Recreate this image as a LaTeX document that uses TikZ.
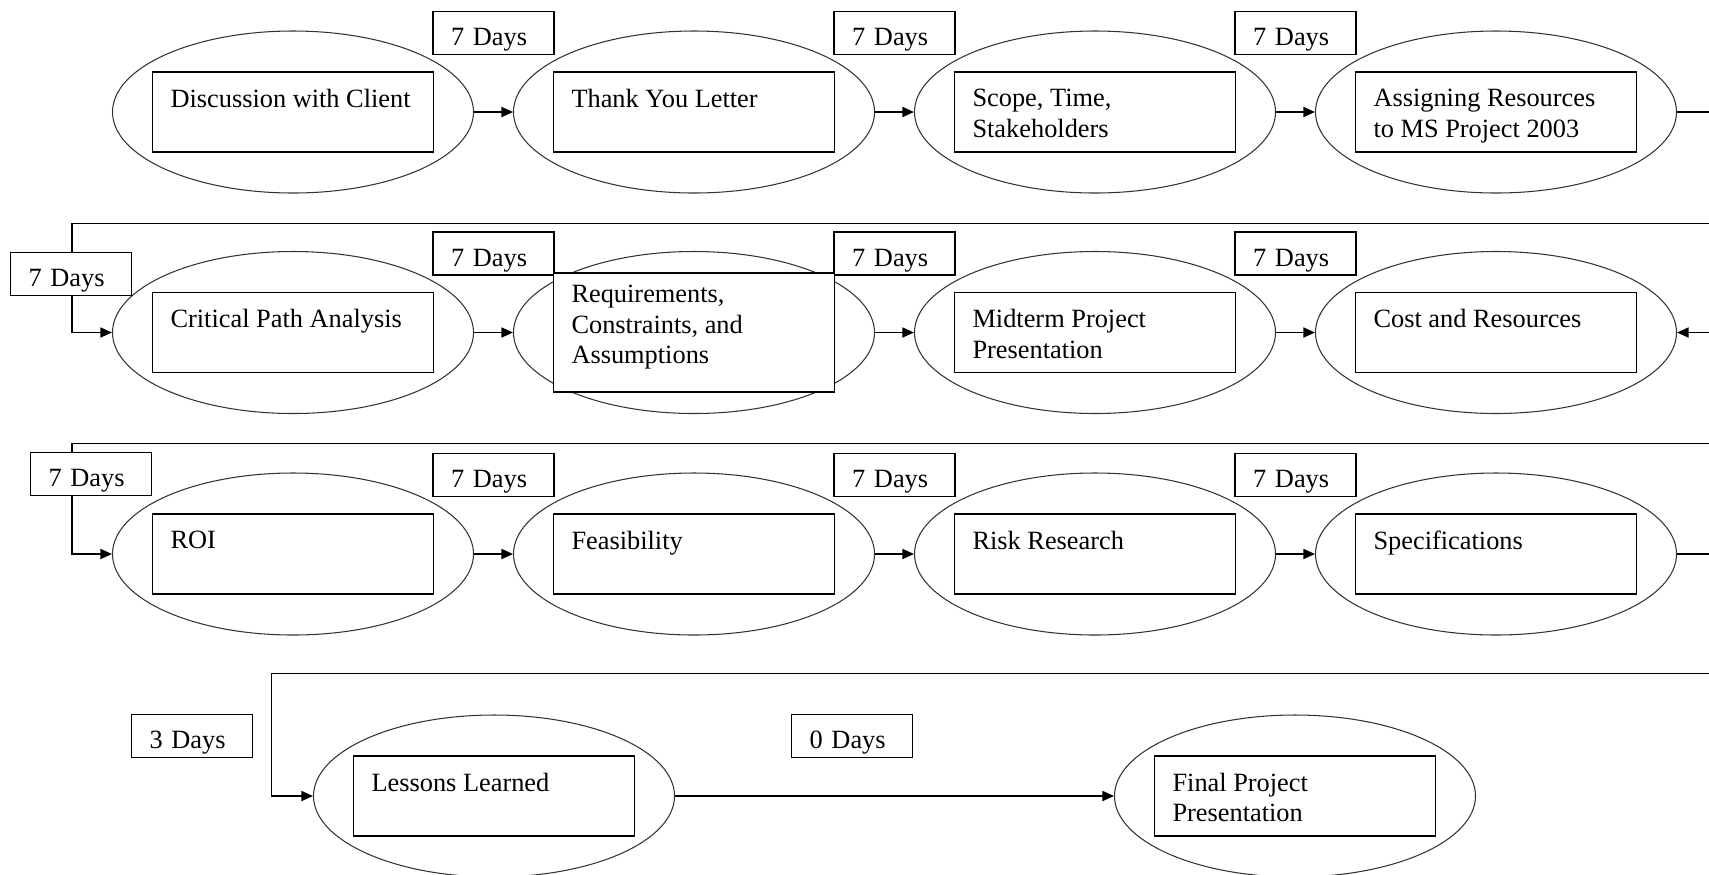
\documentclass[tikz,border=0pt]{standalone}
\usepackage{fontspec}
\setmainfont{Liberation Serif}
\usetikzlibrary{arrows.meta,shapes,backgrounds}

\newcommand{\steptext}[2][0.92cm]{\parbox[t][#1][t]{4.9cm}{\raggedright #2}}

\begin{document}
\begin{tikzpicture}[node distance=8.02cm]
	\tikzstyle{phase}=[ellipse, draw=black!80, line width=0.6pt, minimum width=7.22cm, minimum height=3.24cm, inner sep=0pt]
	\tikzstyle{task}=[draw, line width=0.9pt, fill=white, inner xsep=0.36cm, inner ysep=0.34cm, font=\fontsize{15}{17.4}\selectfont]
	\tikzstyle{days}=[draw, line width=0.9pt, fill=white, minimum width=2.42cm, minimum height=0.86cm, inner xsep=0.36cm, text width=1.7cm, text height=0.5cm, text depth=0pt, font=\fontsize{15}{17.4}\selectfont]
	\tikzstyle{flow}=[line width=0.9pt, -{Triangle[length=2.3mm,width=2mm]}]
	\tikzstyle{link}=[line width=0.9pt]

	\useasboundingbox (0,0) rectangle (34.18,-17.48);

	% first row
	\begin{scope}[yshift=-2.24cm]
		\node [phase] (discuss) at (5.86,0) {};
		\node [phase] (thanks) [right of=discuss] {};
		\node [phase] (scope) [right of=thanks] {};
		\node [phase] (assign) [right of=scope] {};

		\node [task] (discuss-t) at (discuss) {\steptext{Discussion with Client}};
		\node [task] (thanks-t) at (thanks) {\steptext{Thank You Letter}};
		\node [task] (scope-t) at (scope) {\steptext{Scope, Time,\\ Stakeholders}};
		\node [task] (assign-t) at (assign) {\steptext{Assigning Resources\\ to MS Project 2003}};

		\node [days] (days1-1) at (9.87,1.58) {7 Days};
		\node [days] (days1-2) at (17.89,1.58) {7 Days};
		\node [days] (days1-3) at (25.91,1.58) {7 Days};

		\coordinate (exit1) at (34.18,0);
	\end{scope}

	% second row
	\begin{scope}[yshift=-6.65cm]
		\node [phase] (critical) at (5.86,0) {};
		\node [phase] (reqs) [right of=critical] {};
		\node [phase] (midterm) [right of=reqs] {};
		\node [phase] (cost) [right of=midterm] {};

		\node [task] (critical-t) at (critical) {\steptext{Critical Path Analysis}};
		\node [task] (midterm-t) at (midterm) {\steptext{Midterm Project\\ Presentation}};
		\node [task] (cost-t) at (cost) {\steptext{Cost and Resources}};

		\node [days] (days2-0) at (1.42,1.17) {7 Days};
		\node [days] (days2-1) at (9.87,1.58) {7 Days};
		\node [days] (days2-2) at (17.89,1.58) {7 Days};
		\node [days] (days2-3) at (25.91,1.58) {7 Days};

		\node [task, inner ysep=0.24cm] (reqs-t) at (reqs) {\steptext[1.9cm]{Requirements,\\ Constraints, and\\ Assumptions}};

		\coordinate (wrap2) at (34.18,2.18);
		\coordinate (drop2) at (1.44,0);
		\coordinate (entry2) at (34.18,0);
	\end{scope}

	% third row
	\begin{scope}[yshift=-11.08cm]
		\node [phase] (roi) at (5.86,0) {};
		\node [phase] (feas) [right of=roi] {};
		\node [phase] (risk) [right of=feas] {};
		\node [phase] (specs) [right of=risk] {};

		\node [task] (roi-t) at (roi) {\steptext{ROI}};
		\node [task] (feas-t) at (feas) {\steptext{Feasibility}};
		\node [task] (risk-t) at (risk) {\steptext{Risk Research}};
		\node [task] (specs-t) at (specs) {\steptext{Specifications}};

		\node [days] (days3-0) at (1.82,1.6) {7 Days};
		\node [days] (days3-1) at (9.87,1.58) {7 Days};
		\node [days] (days3-2) at (17.89,1.58) {7 Days};
		\node [days] (days3-3) at (25.91,1.58) {7 Days};

		\coordinate (wrap3) at (34.18,2.21);
		\coordinate (drop3) at (1.44,0);
		\coordinate (exit3) at (34.18,0);
	\end{scope}

	% last row
	\begin{scope}[yshift=-15.92cm]
		\node [phase] (lessons) at (9.88,0) {};
		\node [phase] (final) [right of=lessons, node distance=16.02cm] {};

		\node [task] (lessons-t) at (lessons) {\steptext{Lessons Learned}};
		\node [task] (final-t) at (final) {\steptext{Final Project\\ Presentation}};

		\node [days] (days4-0) at (3.84,1.2) {3 Days};
		\node [days] (days4-1) at (17.04,1.2) {0 Days};

		\coordinate (wrap4) at (34.18,2.45);
		\coordinate (drop4) at (5.43,0);
	\end{scope}

	\begin{scope}[on background layer]
		\draw [flow] (discuss) -- (thanks);
		\draw [flow] (thanks) -- (scope);
		\draw [flow] (scope) -- (assign);
		\draw [link] (assign) -- (exit1);

		\draw [flow] (wrap2) -| (drop2) -- (critical);
		\draw [flow] (critical) -- (reqs);
		\draw [flow] (reqs) -- (midterm);
		\draw [flow] (midterm) -- (cost);
		\draw [flow] (entry2) -- (cost);

		\draw [flow] (wrap3) -| (drop3) -- (roi);
		\draw [flow] (roi) -- (feas);
		\draw [flow] (feas) -- (risk);
		\draw [flow] (risk) -- (specs);
		\draw [link] (specs) -- (exit3);

		\draw [flow] (wrap4) -| (drop4) -- (lessons);
		\draw [flow] (lessons) -- (final);
	\end{scope}
\end{tikzpicture}
\end{document}
